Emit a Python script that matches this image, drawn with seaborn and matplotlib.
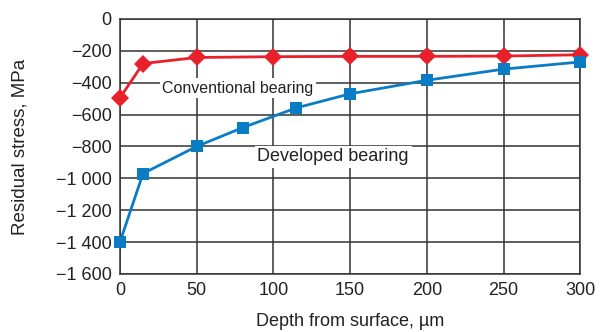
import pandas as pd
import numpy as np
import matplotlib
matplotlib.use("Agg")
import matplotlib.pyplot as plt
import seaborn as sns

# depth from surface (um) and residual stress (MPa)
conv_depth = [0, 15, 50, 100, 150, 200, 250, 300]
conv_stress = [-495, -280, -242, -237, -235, -235, -233, -225]

dev_depth = [0, 15, 50, 80, 115, 150, 200, 250, 300]
dev_stress = [-1400, -970, -800, -682, -558, -470, -385, -315, -270]

xticks = [0, 50, 100, 150, 200, 250, 300]
yticks = [0, -200, -400, -600, -800, -1000, -1200, -1400, -1600]
ytick_labels = ["0", "\u2212200", "\u2212400", "\u2212600", "\u2212800",
                "\u22121 000", "\u22121 200", "\u22121 400", "\u22121 600"]

df = pd.concat([
    pd.DataFrame({"depth": conv_depth, "stress": conv_stress, "bearing": "Conventional bearing"}),
    pd.DataFrame({"depth": dev_depth, "stress": dev_stress, "bearing": "Developed bearing"}),
])

sns.set_style("white")
plt.rcParams["font.family"] = ["Liberation Sans", "DejaVu Sans"]

fig = plt.figure(figsize=(6, 3.32), dpi=100)
ax = fig.add_axes([0.2, 0.175, 0.767, 0.768])

red = "#e8202a"
blue = "#0a7cc4"
sns.lineplot(data=df, x="depth", y="stress", hue="bearing", style="bearing",
             palette={"Conventional bearing": red, "Developed bearing": blue},
             markers={"Conventional bearing": "D", "Developed bearing": "s"},
             dashes=False, linewidth=2, markersize=9, markeredgewidth=0,
             legend=False, ax=ax, zorder=3)
for ln in ax.lines:
    ln.set_clip_on(False)

ax.set_xlim(0, 300)
ax.set_ylim(-1600, 0)
ax.set_xticks(xticks)
ax.set_yticks(yticks)
ax.set_yticklabels(ytick_labels)
ax.grid(True, color="#333333", linewidth=1.1)
ax.set_axisbelow(True)
for s in ax.spines.values():
    s.set_color("#333333")
    s.set_linewidth(1.1)
ax.tick_params(axis="both", labelsize=13, length=0, pad=6, colors="#222222")

ax.set_xlabel("Depth from surface, \u00b5m", fontsize=13, color="#222222", labelpad=10)
ax.set_ylabel("Residual stress, MPa", fontsize=13.5, color="#222222", labelpad=20)

box = dict(facecolor="white", edgecolor="none", pad=2)
ax.text(77, -435, "Conventional bearing", fontsize=11.5, ha="center", va="center",
        color="#222222", bbox=box, zorder=2,
        family=["Liberation Sans Narrow", "Liberation Sans", "DejaVu Sans"])
ax.text(139, -865, "Developed bearing", fontsize=13, ha="center", va="center",
        color="#222222", bbox=box, zorder=2)

fig.savefig("out.png", dpi=100)
